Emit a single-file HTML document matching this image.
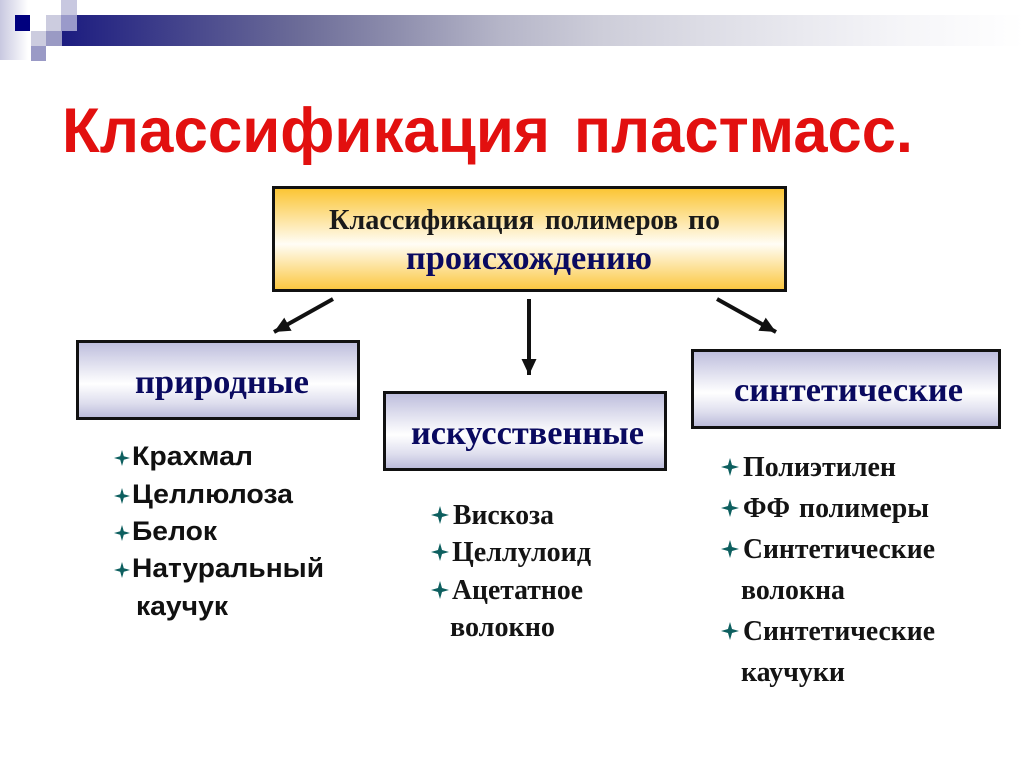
<!DOCTYPE html>
<html>
<head>
<meta charset="utf-8">
<style>
html,body{margin:0;padding:0;background:#fff;}
svg{display:block;}
.t{font-family:"Liberation Serif",serif;font-weight:bold;}
.b{font-size:29px;fill:#141414;}
.h{font-size:34px;fill:#0a0a60;}
.k{font-size:28px;fill:#1a1a1a;}
.s{font-family:"Liberation Sans",sans-serif;font-weight:bold;fill:#111;font-size:27px;}
</style>
</head>
<body>
<svg width="1024" height="768" viewBox="0 0 1024 768" xmlns="http://www.w3.org/2000/svg">
<defs>
<linearGradient id="bar" x1="0" x2="1" y1="0" y2="0">
<stop offset="0" stop-color="#1c1c80"/>
<stop offset="0.247" stop-color="#6c6c98"/>
<stop offset="0.351" stop-color="#8f8fae"/>
<stop offset="0.455" stop-color="#b5b5c8"/>
<stop offset="0.559" stop-color="#cdcdd9"/>
<stop offset="0.663" stop-color="#dcdce5"/>
<stop offset="0.767" stop-color="#e9e9ef"/>
<stop offset="0.871" stop-color="#f5f5f8"/>
<stop offset="1" stop-color="#ffffff"/>
</linearGradient>
<linearGradient id="fade" x1="0" x2="1" y1="0" y2="0">
<stop offset="0" stop-color="#c8c8e0"/>
<stop offset="1" stop-color="#ffffff"/>
</linearGradient>
<linearGradient id="gold" x1="0" x2="0" y1="0" y2="1">
<stop offset="0" stop-color="#fbc430"/>
<stop offset="0.55" stop-color="#fffdf6"/>
<stop offset="1" stop-color="#fbc63c"/>
</linearGradient>
<linearGradient id="lav" x1="0" x2="0" y1="0" y2="1">
<stop offset="0" stop-color="#bcbcdc"/>
<stop offset="0.55" stop-color="#ffffff"/>
<stop offset="0.8" stop-color="#dedeee"/>
<stop offset="1" stop-color="#b8b8d8"/>
</linearGradient>
<marker id="ah" markerUnits="userSpaceOnUse" markerWidth="17" markerHeight="15" refX="16" refY="7.500" orient="auto">
<path d="M0 0L16 7.500L0 15Z" fill="#111"/>
</marker>
<symbol id="star" viewBox="-8 -8 16 16" overflow="visible">
<path d="M0 -8L1.8 -1.800L8 0L1.800 1.800L0 8L-1.800 1.800L-8 0L-1.800 -1.800Z" fill="#0d5f5f"/>
</symbol>
</defs>

<!-- header decoration -->
<rect x="0" y="0" width="28" height="60" fill="url(#fade)"/>
<rect x="62" y="15" width="962" height="31" fill="url(#bar)"/>
<rect x="15" y="15" width="15" height="16" fill="#00007e"/>
<rect x="30" y="15" width="16" height="16" fill="#ffffff"/>
<rect x="46" y="15" width="16" height="16" fill="#ccccdf"/>
<rect x="61" y="0" width="16" height="15" fill="#c8c8e0"/>
<rect x="61" y="15" width="16" height="16" fill="#9a9aca"/>
<rect x="31" y="31" width="15" height="15" fill="#ccccdf"/>
<rect x="46" y="31" width="16" height="15" fill="#9a9ac4"/>
<rect x="31" y="46" width="15" height="15" fill="#9a9ac6"/>

<!-- title -->
<text x="62" y="152" font-family="'Liberation Sans',sans-serif" font-weight="bold" font-size="63" fill="#e2100f" textLength="488" lengthAdjust="spacingAndGlyphs">Классификация</text>
<text x="574" y="152" font-family="'Liberation Sans',sans-serif" font-weight="bold" font-size="63" fill="#e2100f" textLength="339" lengthAdjust="spacingAndGlyphs">пластмасс.</text>

<!-- top box -->
<rect x="273.500" y="187.500" width="512" height="103" fill="url(#gold)" stroke="#111" stroke-width="3"/>
<text class="t k" x="329" y="229" textLength="205" lengthAdjust="spacingAndGlyphs">Классификация</text>
<text class="t k" x="545" y="229" textLength="133" lengthAdjust="spacingAndGlyphs">полимеров</text>
<text class="t k" x="688" y="229" textLength="32" lengthAdjust="spacingAndGlyphs">по</text>
<text class="t h" x="406" y="269" textLength="246" lengthAdjust="spacingAndGlyphs">происхождению</text>

<!-- arrows -->
<line x1="333" y1="299" x2="274" y2="332" stroke="#111" stroke-width="4" marker-end="url(#ah)"/>
<line x1="529" y1="299" x2="529" y2="375" stroke="#111" stroke-width="4" marker-end="url(#ah)"/>
<line x1="717" y1="299" x2="776" y2="332" stroke="#111" stroke-width="4" marker-end="url(#ah)"/>

<!-- category boxes -->
<rect x="77.500" y="341.500" width="281" height="77" fill="url(#lav)" stroke="#111" stroke-width="3"/>
<text class="t h" x="135" y="393" textLength="174" lengthAdjust="spacingAndGlyphs">природные</text>

<rect x="384.500" y="392.500" width="281" height="77" fill="url(#lav)" stroke="#111" stroke-width="3"/>
<text class="t h" x="411" y="444" textLength="233" lengthAdjust="spacingAndGlyphs">искусственные</text>

<rect x="692.500" y="350.500" width="307" height="77" fill="url(#lav)" stroke="#111" stroke-width="3"/>
<text class="t h" x="734" y="401" textLength="229" lengthAdjust="spacingAndGlyphs">синтетические</text>

<!-- left list -->
<use href="#star" x="114" y="450" width="16" height="16"/>
<use href="#star" x="114" y="488" width="16" height="16"/>
<use href="#star" x="114" y="525" width="16" height="16"/>
<use href="#star" x="114" y="562" width="16" height="16"/>
<text class="s" x="132" y="465" textLength="121" lengthAdjust="spacingAndGlyphs">Крахмал</text>
<text class="s" x="132" y="503" textLength="161" lengthAdjust="spacingAndGlyphs">Целлюлоза</text>
<text class="s" x="132" y="540" textLength="85" lengthAdjust="spacingAndGlyphs">Белок</text>
<text class="s" x="132" y="577" textLength="192" lengthAdjust="spacingAndGlyphs">Натуральный</text>
<text class="s" x="136" y="615" textLength="92" lengthAdjust="spacingAndGlyphs">каучук</text>

<!-- middle list -->
<use href="#star" x="431" y="506" width="18" height="18"/>
<use href="#star" x="431" y="543" width="18" height="18"/>
<use href="#star" x="431" y="581" width="18" height="18"/>
<text class="t b" x="453" y="524" textLength="101" lengthAdjust="spacingAndGlyphs">Вискоза</text>
<text class="t b" x="452" y="561" textLength="139" lengthAdjust="spacingAndGlyphs">Целлулоид</text>
<text class="t b" x="452" y="599" textLength="131" lengthAdjust="spacingAndGlyphs">Ацетатное</text>
<text class="t b" x="450" y="636" textLength="105" lengthAdjust="spacingAndGlyphs">волокно</text>

<!-- right list -->
<use href="#star" x="721" y="458" width="18" height="18"/>
<use href="#star" x="721" y="499" width="18" height="18"/>
<use href="#star" x="721" y="540" width="18" height="18"/>
<use href="#star" x="721" y="622" width="18" height="18"/>
<text class="t b" x="743" y="476" textLength="153" lengthAdjust="spacingAndGlyphs">Полиэтилен</text>
<text class="t b" x="743" y="517" textLength="47" lengthAdjust="spacingAndGlyphs">ФФ</text>
<text class="t b" x="799" y="517" textLength="130" lengthAdjust="spacingAndGlyphs">полимеры</text>
<text class="t b" x="743" y="558" textLength="192" lengthAdjust="spacingAndGlyphs">Синтетические</text>
<text class="t b" x="741" y="599" textLength="104" lengthAdjust="spacingAndGlyphs">волокна</text>
<text class="t b" x="743" y="640" textLength="192" lengthAdjust="spacingAndGlyphs">Синтетические</text>
<text class="t b" x="741" y="681" textLength="104" lengthAdjust="spacingAndGlyphs">каучуки</text>
</svg>
</body>
</html>
